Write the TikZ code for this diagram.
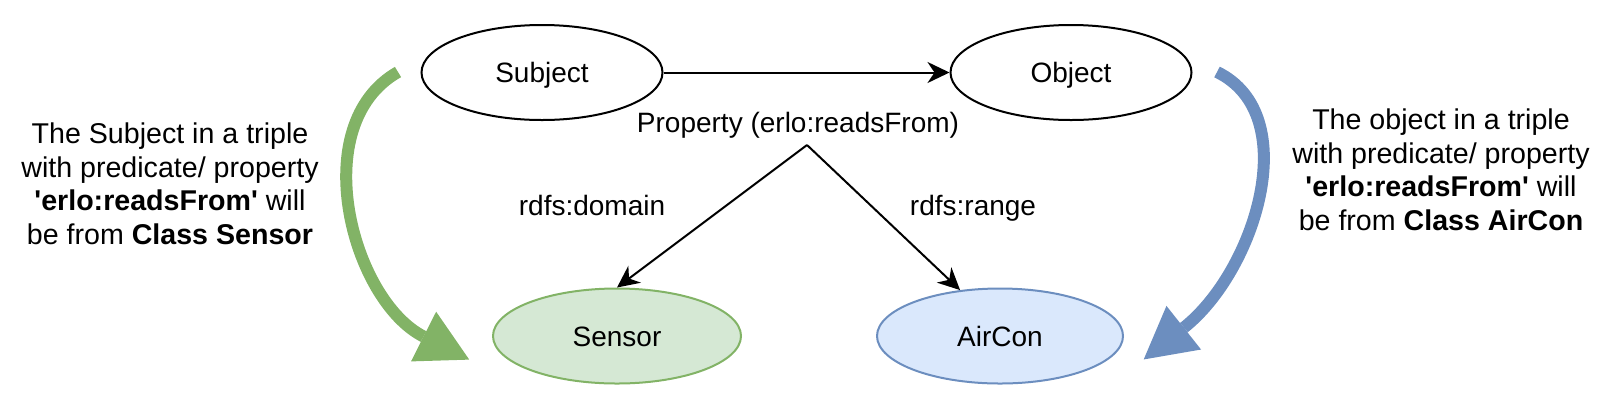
\documentclass[tikz,border=0pt]{standalone}
\usepackage{fontspec}
\setmainfont{Liberation Sans}
\usetikzlibrary{shapes.geometric,arrows.meta}
\definecolor{sensorline}{HTML}{82B366}
\definecolor{sensorfill}{HTML}{D5E8D4}
\definecolor{airconline}{HTML}{6C8EBF}
\definecolor{airconfill}{HTML}{DAE8FC}

\begin{document}
\begin{tikzpicture} [x=0.5pt,y=-0.5pt,
  txt/.style= {font=\fontsize{14pt}{16.75pt}\selectfont,inner sep=0},
  note/.style= {font=\fontsize{14.3pt}{16.75pt}\selectfont,inner sep=0,align=center},
  oval/.style= {shape=ellipse,draw,line width=1pt,inner sep=0,minimum width=120.5pt,minimum height=47.5pt,text height=10pt,text depth=0pt,txt},
  link/.style= {line width=1pt,-{Stealth[length=11pt,width=10.5pt,inset=3.5pt]}},
  bigline/.style= {line width=6pt},
  bigtip/.style= {line width=6pt,-{Triangle[length=26pt,width=26pt]}}]
\useasboundingbox (0,0) rectangle (1609,408);

\node[oval] (subj) at (542,72.5) {Subject};
\node[oval] (obj) at (1071,72.5) {Object};
\node[oval,minimum width=124pt,draw=sensorline,fill=sensorfill] (sensor) at (617,336) {Sensor};
\node[oval,minimum width=123pt,draw=airconline,fill=airconfill] (aircon) at (1000,336) {AirCon};

\draw[link] (subj) -- (obj);
\node[txt,anchor=base] (prop) at (798,132) {Property (erlo:readsFrom)};
\coordinate (fork) at (807,145);
\draw[link] (fork) -- (sensor.north);
\draw[link] (fork) -- (aircon.131);
\node[txt,anchor=base] (dom) at (592,215) {rdfs:domain};
\node[txt,anchor=base] (rng) at (973,215) {rdfs:range};

% notes on both sides
\node[note] (subjnote) at (170,184) {The Subject in a triple\\with predicate/ property\\\textbf{\textquotesingle erlo:readsFrom\textquotesingle} will\\be from \textbf{Class Sensor}};
\node[note] (objnote) at (1441,170) {The object in a triple\\with predicate/ property\\\textbf{\textquotesingle erlo:readsFrom\textquotesingle} will\\be from \textbf{Class AirCon}};

% big curved arrows
\coordinate (greenstart) at (398,72);
\coordinate (greenbase) at (423.5,336.5);
\coordinate (greentip) at (470,360);
\draw[bigline,sensorline] (greenstart) .. controls (305,125) and (352,300) .. (greenbase);
\draw[bigtip,sensorline] (greenbase) -- (greentip);
\coordinate (bluestart) at (1217,72);
\coordinate (bluebase) at (1184,327.5);
\coordinate (bluetip) at (1143,360);
\draw[bigline,airconline] (bluestart) .. controls (1305,115) and (1254.6,271.6) .. (bluebase);
\draw[bigtip,airconline] (bluebase) -- (bluetip);
\end{tikzpicture}
\end{document}
